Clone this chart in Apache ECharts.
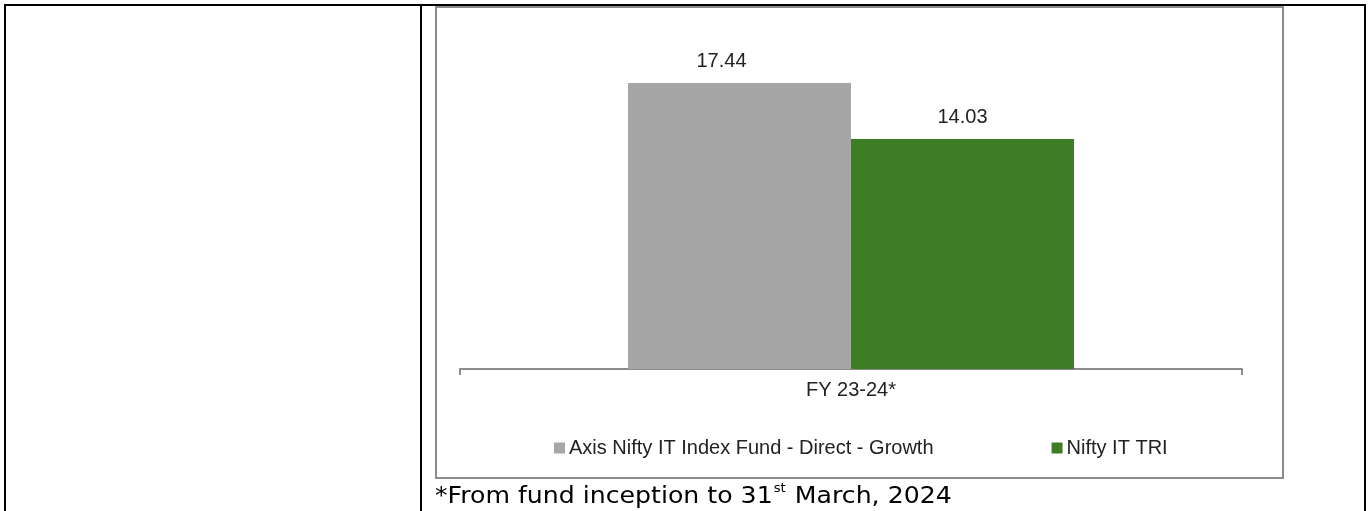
<!DOCTYPE html>
<html>
<head>
<meta charset="utf-8">
<script src="https://cdn.jsdelivr.net/npm/echarts@6/dist/echarts.min.js"></script>
<style>
html,body{margin:0;padding:0;background:#fff;}
#chart{width:1369px;height:511px;}
</style>
</head>
<body>
<div id="chart"></div>
<script>
const categories = ['FY 23-24*'];
const seriesNames = ['Axis Nifty IT Index Fund - Direct - Growth', 'Nifty IT TRI'];
const fundValues = [17.44];
const benchmarkValues = [14.03];
const footnoteMain = '*From fund inception to 31';
const footnoteSup = 'st';
const footnoteEnd = ' March, 2024';

const chart = echarts.init(document.getElementById('chart'), null, {renderer: 'canvas'});
const txt = '#222222';
const font = '"Liberation Sans", Arial, sans-serif';
chart.setOption({
  animation: false,
  backgroundColor: '#ffffff',
  grid: {left: 460, right: 127, top: 41, bottom: 142},
  legend: {
    left: 554, top: 438, padding: 0,
    itemWidth: 11, itemHeight: 11, itemGap: 118,
    icon: 'rect',
    textStyle: {fontSize: 20, color: txt, fontFamily: font, padding: [0,0,0,-1]},
    data: seriesNames
  },
  xAxis: {
    type: 'category',
    data: categories,
    axisLine: {show: true, lineStyle: {color: '#8c8c8c', width: 2}},
    axisTick: {show: true, length: 6, alignWithLabel: false, lineStyle: {color: '#8c8c8c', width: 2}},
    axisLabel: {fontSize: 20, color: txt, fontFamily: font, margin: 11}
  },
  yAxis: {
    type: 'value', min: 0, max: 20, show: false,
    splitLine: {show: false}
  },
  series: [
    {
      name: seriesNames[0], type: 'bar', data: fundValues,
      barWidth: 223, barGap: '0%',
      itemStyle: {color: '#a6a6a6'},
      label: {show: true, position: 'top', distance: 11, offset: [-18, 0], fontSize: 20, color: txt, fontFamily: font}
    },
    {
      name: seriesNames[1], type: 'bar', data: benchmarkValues,
      barWidth: 223, barGap: '0%',
      itemStyle: {color: '#3d7d23'},
      label: {show: true, position: 'top', distance: 11, fontSize: 20, color: txt, fontFamily: font}
    }
  ],
  graphic: [
    {type: 'rect', silent: true, shape: {x: 436, y: 7, width: 847, height: 471}, style: {fill: 'none', stroke: '#8c8c8c', lineWidth: 2}},
    {type: 'rect', silent: true, shape: {x: 4, y: 4, width: 1362, height: 2}, style: {fill: '#000'}},
    {type: 'rect', silent: true, shape: {x: 4, y: 4, width: 2, height: 507}, style: {fill: '#000'}},
    {type: 'rect', silent: true, shape: {x: 420, y: 4, width: 2, height: 507}, style: {fill: '#000'}},
    {type: 'rect', silent: true, shape: {x: 1364, y: 4, width: 2, height: 507}, style: {fill: '#000'}},
    {
      type: 'text', silent: true, x: 435, y: 483, scaleX: 1.095,
      style: {
        text: '{a|' + footnoteMain + '}{s|' + footnoteSup + '}{a|' + footnoteEnd + '}',
        rich: {
          a: {fontSize: 23, fontFamily: '"DejaVu Sans", sans-serif', color: '#111', lineHeight: 26, verticalAlign: 'bottom'},
          s: {fontSize: 12, fontFamily: '"DejaVu Sans", sans-serif', color: '#111', lineHeight: 26, verticalAlign: 'top', padding: [0, 1, 0, 1]}
        }
      }
    }
  ]
});
</script>
</body>
</html>
